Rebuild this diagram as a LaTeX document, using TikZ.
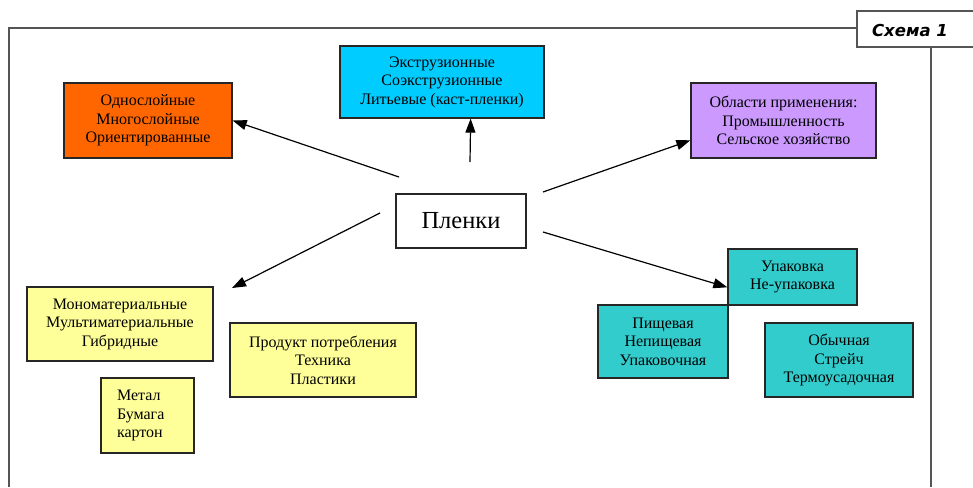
\documentclass[tikz,border=0pt]{standalone}
\usepackage{fontspec}
\setmainfont{Liberation Serif}
\newfontfamily\schemafont{DejaVu Sans}
\usepackage{tikz}
\usetikzlibrary{arrows.meta,shadows}

\definecolor{orangebox}{HTML}{FF6600}
\definecolor{cyanbox}{HTML}{00CCFF}
\definecolor{violetbox}{HTML}{CC99FF}
\definecolor{yellowbox}{HTML}{FFFF99}
\definecolor{tealbox}{HTML}{33CCCC}
\definecolor{framegray}{HTML}{555555}

\begin{document}
\begin{tikzpicture}[x=1pt,y=-1pt,
    box/.style={draw=black!85,line width=1.3pt,align=center,inner sep=2pt,
        font=\fontsize{16}{18.5}\selectfont,
        drop shadow={shadow xshift=1pt,shadow yshift=-1pt,fill=gray!70,opacity=0.8}},
    link/.style={line width=1.2pt,-{Triangle[length=14pt,width=10pt]}}]
    \useasboundingbox (0,0) rectangle (973,487);

    % frame and title tab
    \draw[framegray,line width=1.5pt] (9,487) -- (9,28) -- (857,28);
    \draw[framegray,line width=1.5pt] (931,47) -- (931,487);
    \draw[framegray,line width=1.5pt,fill=white] (857,11) rectangle (990,47);
    \node[font=\schemafont\bfseries\itshape\fontsize{16.5}{18}\selectfont] (schema) at (910,30) {Схема 1};

    % boxes
    \node[box,fill=orangebox,minimum width=168pt,minimum height=75pt] (layers) at (148,120.5)
        {Однослойные\\Многослойные\\Ориентированные};
    \node[box,fill=cyanbox,minimum width=204pt,minimum height=72pt] (extr) at (442,82)
        {Экструзионные\\Соэкструзионные\\Литьевые (каст-пленки)};
    \node[box,fill=violetbox,minimum width=185pt,minimum height=75pt] (appl) at (783.5,120.5)
        {Области применения:\\Промышленность\\Сельское хозяйство};
    \node[box,fill=white,minimum width=130pt,minimum height=54pt,font=\fontsize{24.5}{28}\selectfont] (film) at (461,221)
        {Пленки};

    \node[box,fill=yellowbox,minimum width=186pt,minimum height=74pt] (mono) at (120,324)
        {Мономатериальные\\Мультиматериальные\\Гибридные};
    \node[box,fill=yellowbox,minimum width=186pt,minimum height=74pt] (prod) at (323,360)
        {Продукт потребления\\Техника\\Пластики};
    \node[box,fill=yellowbox,align=left,text width=61pt,inner xsep=16pt,minimum height=75pt] (metal) at (147.5,415.5)
        {Метал\\Бумага\\картон};

    \node[box,fill=tealbox,minimum width=130pt,minimum height=73pt] (food) at (663,341.5)
        {Пищевая\\Непищевая\\Упаковочная};
    \node[box,fill=tealbox,minimum width=129pt,minimum height=56pt] (pack) at (792.5,277)
        {Упаковка\\Не-упаковка};
    \node[box,fill=tealbox,minimum width=148pt,minimum height=74pt] (usual) at (839,360)
        {Обычная\\Стрейч\\Термоусадочная};

    % arrows from the centre
    \coordinate (s1) at (399,177);
    \coordinate (s2) at (470,162);
    \coordinate (s3) at (543,192);
    \coordinate (s4) at (380,213);
    \coordinate (s5) at (543,232);
    \coordinate (e4) at (232,288);

    \draw[link] (s1) -- (layers.east);
    \draw[link] (s2) -- (extr.308);
    \draw[link] (s3) -- (appl.192);
    \draw[link] (s4) -- (e4);
    \draw[link] (s5) -- (pack.189);
\end{tikzpicture}
\end{document}
